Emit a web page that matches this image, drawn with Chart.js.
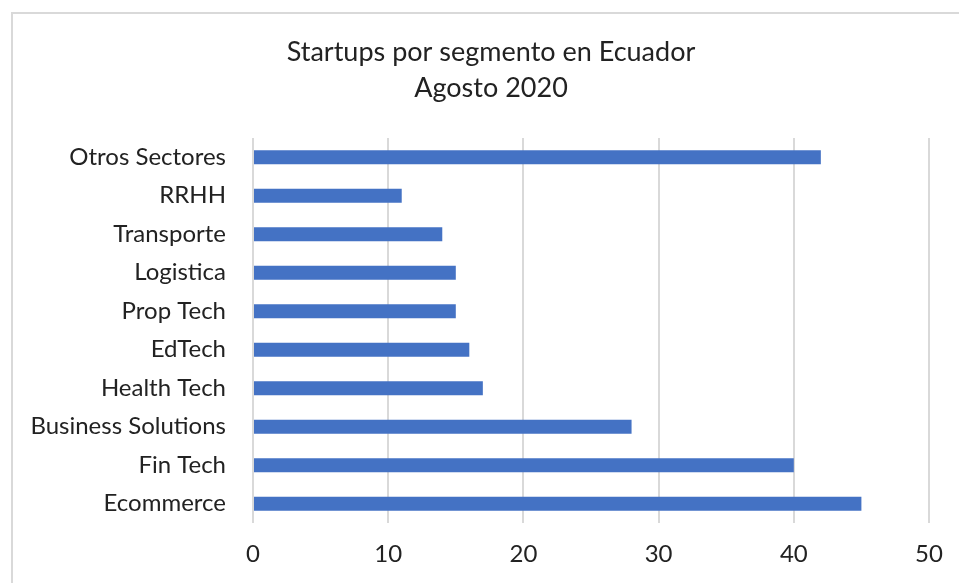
<!DOCTYPE html>
<html>
<head>
<meta charset="utf-8">
<script src="https://cdn.jsdelivr.net/npm/chart.js@4.4.0/dist/chart.umd.min.js"></script>
<style>
  html, body { margin: 0; padding: 0; background: #fff; overflow: hidden; }
  body { width: 959px; height: 583px; position: relative; }
  #frame { position: absolute; left: 11px; top: 12px; width: 1000px; height: 1000px; border: 2px solid #d9d9d9; box-sizing: border-box; }
  #wrap { position: absolute; left: 23px; top: 0; width: 936px; height: 583px; }
</style>
</head>
<body>
<div id="frame"></div>
<div id="wrap"><canvas id="c" width="936" height="583"></canvas></div>
<script>
const titleLines = ["Startups por segmento en Ecuador", "Agosto 2020"];
const categories = ["Otros Sectores", "RRHH", "Transporte", "Logistica", "Prop Tech", "EdTech", "Health Tech", "Business Solutions", "Fin Tech", "Ecommerce"];
const startups = [42, 11, 14, 15, 15, 16, 17, 28, 40, 45];
const xTicks = [0, 10, 20, 30, 40, 50];

const FONT = "Lato, Carlito, Calibri, 'Open Sans', sans-serif";
const TEXT = "#222222";

new Chart(document.getElementById('c'), {
  type: 'bar',
  data: {
    labels: categories,
    datasets: [{
      label: 'Startups',
      data: startups,
      backgroundColor: '#4472C4',
      borderWidth: 0,
      barPercentage: 0.72,
      categoryPercentage: 0.5
    }]
  },
  options: {
    indexAxis: 'y',
    responsive: false,
    animation: false,
    layout: { padding: { left: 0, right: 0, top: 0, bottom: 0 } },
    plugins: {
      legend: { display: false },
      tooltip: { enabled: false },
      title: {
        display: true,
        text: titleLines,
        color: TEXT,
        font: { family: FONT, size: 27, weight: 'normal', lineHeight: 1.333 },
        padding: { top: 34, bottom: 32 }
      }
    },
    scales: {
      x: {
        min: xTicks[0],
        max: xTicks[xTicks.length - 1],
        afterBuildTicks: (s) => { s.ticks = xTicks.map(v => ({ value: v })); },
        grid: { color: '#d9d9d9', lineWidth: 2, drawTicks: false },
        border: { display: false },
        ticks: { color: TEXT, font: { family: FONT, size: 24 }, padding: 17, maxRotation: 0 },
        afterFit: (s) => { s.height = 60; s.paddingRight = 30; }
      },
      y: {
        grid: { display: false, drawTicks: false },
        border: { display: false },
        ticks: { color: TEXT, font: { family: FONT, size: 24 }, padding: 27 },
        afterFit: (s) => { s.width = 230; }
      }
    }
  }
});
</script>
</body>
</html>
